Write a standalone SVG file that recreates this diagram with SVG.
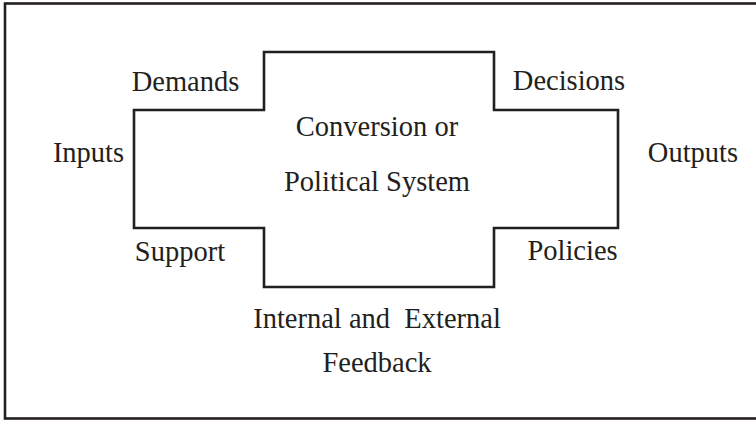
<svg xmlns="http://www.w3.org/2000/svg" width="756" height="421" viewBox="0 0 756 421">
  <style>
    .lbl { font-family: "Liberation Serif", "Times New Roman", serif; font-size: 28.5px; fill: #231f20; text-anchor: middle; }
    .edge { fill: none; stroke: #231f20; stroke-width: 2.6; }
  </style>
  <rect x="0" y="0" width="756" height="421" fill="#ffffff"/>
  <g id="frame">
    <rect x="5" y="3.5" width="770" height="415" class="edge"/>
  </g>
  <g id="system">
    <polygon class="edge" points="264,52 494,52 494,110 618,110 618,228 494,228 494,287 264,287 264,228 134,228 134,110 264,110"/>
    <text class="lbl" x="377" y="136">Conversion or</text>
    <text class="lbl" x="377" y="191">Political System</text>
  </g>
  <g id="inputs"><text class="lbl" x="88.5" y="162">Inputs</text></g>
  <g id="demands"><text class="lbl" x="185.5" y="91">Demands</text></g>
  <g id="support"><text class="lbl" x="180" y="261">Support</text></g>
  <g id="outputs"><text class="lbl" x="693" y="162">Outputs</text></g>
  <g id="decisions"><text class="lbl" x="569" y="90">Decisions</text></g>
  <g id="policies"><text class="lbl" x="572.5" y="260">Policies</text></g>
  <g id="feedback">
    <text class="lbl" x="377" y="328" xml:space="preserve">Internal and  External</text>
    <text class="lbl" x="377" y="372">Feedback</text>
  </g>
  <g id="connectors"></g>
</svg>
